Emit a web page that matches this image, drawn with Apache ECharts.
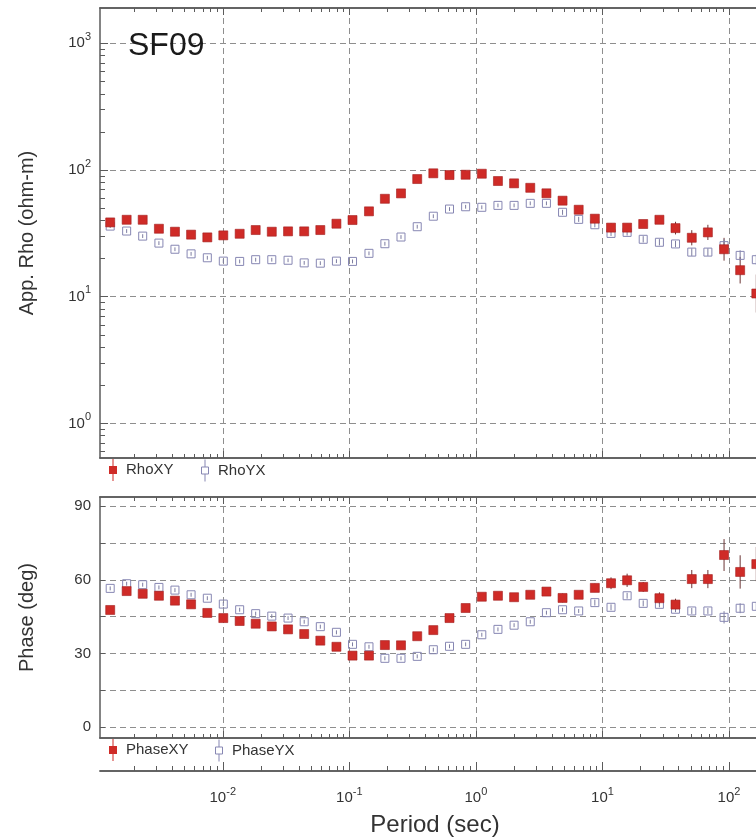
<!DOCTYPE html>
<html><head><meta charset="utf-8">
<script src="https://cdn.jsdelivr.net/npm/echarts@6/dist/echarts.min.js"></script>
<style>html,body{margin:0;padding:0;background:#fff}#c{width:756px;height:839px}</style>
</head><body><div id="c"></div>
<script>
// ---------- data ----------
const periods = [0.00129, 0.00174, 0.00233, 0.00313, 0.00419, 0.00562, 0.00755, 0.0101, 0.0136, 0.0182,
  0.0244, 0.0328, 0.044, 0.059, 0.0791, 0.106, 0.143, 0.191, 0.256, 0.344,
  0.461, 0.619, 0.83, 1.114, 1.494, 2.004, 2.69, 3.61, 4.84, 6.49,
  8.71, 11.69, 15.67, 21.0, 28.2, 37.8, 50.8, 68.1, 91.4, 122.5, 164.4];
const rhoXY = [38.6, 40.5, 40.5, 34.4, 32.6, 30.9, 29.4, 30.5, 31.4, 33.6,
  32.6, 32.8, 32.8, 33.6, 37.7, 40.3, 47.2, 59.3, 65.4, 84.9,
  94.2, 91.3, 91.8, 93.5, 81.9, 78.5, 72.4, 65.5, 57.3, 48.6,
  41.3, 35.1, 35.1, 37.5, 40.5, 34.8, 29.2, 32.2, 23.7, 16.2, 10.6];
const rhoYX = [36.1, 33.0, 30.1, 26.5, 23.7, 21.8, 20.3, 19.1, 19.0, 19.6,
  19.6, 19.4, 18.5, 18.4, 19.1, 19.0, 22.0, 26.2, 29.6, 35.7,
  43.2, 49.2, 51.3, 50.8, 52.6, 52.6, 54.6, 54.6, 46.4, 40.8,
  37.0, 31.6, 32.2, 28.4, 26.9, 26.1, 22.5, 22.5, 25.3, 21.2, 19.6];
// error half-widths in decades (log10)
const rhoXYErr = [0.015, 0.015, 0.015, 0.015, 0.015, 0.015, 0.015, 0.015, 0.015, 0.015,
  0.015, 0.015, 0.015, 0.015, 0.015, 0.015, 0.015, 0.015, 0.015, 0.015,
  0.015, 0.015, 0.015, 0.015, 0.015, 0.015, 0.015, 0.02, 0.03, 0.025,
  0.03, 0.035, 0.03, 0.03, 0.03, 0.05, 0.06, 0.06, 0.09, 0.105, 0.15];
const rhoYXErr = [0.015, 0.015, 0.015, 0.015, 0.015, 0.015, 0.015, 0.015, 0.015, 0.015,
  0.015, 0.015, 0.015, 0.015, 0.015, 0.015, 0.015, 0.015, 0.015, 0.015,
  0.015, 0.015, 0.015, 0.015, 0.015, 0.015, 0.015, 0.015, 0.02, 0.02,
  0.02, 0.02, 0.025, 0.025, 0.025, 0.025, 0.03, 0.03, 0.05, 0.04, 0.04];
const phaseXY = [47.7, 55.4, 54.3, 53.5, 51.5, 50.0, 46.5, 44.4, 43.2, 42.1,
  41.0, 39.8, 37.9, 35.2, 32.7, 29.1, 29.1, 33.4, 33.3, 37.0,
  39.5, 44.4, 48.5, 53.1, 53.5, 52.9, 53.9, 55.2, 52.6, 53.9,
  56.7, 58.6, 59.8, 57.1, 52.5, 49.9, 60.3, 60.3, 70.1, 63.2, 66.4];
const phaseYX = [56.5, 58.4, 58.0, 56.9, 55.8, 53.9, 52.5, 50.1, 47.8, 46.2,
  45.2, 44.4, 42.9, 40.9, 38.6, 33.7, 32.7, 28.0, 28.0, 28.8,
  31.5, 32.9, 33.7, 37.6, 39.8, 41.5, 42.9, 46.6, 47.8, 47.3,
  50.7, 48.8, 53.5, 50.4, 50.0, 48.0, 47.3, 47.3, 44.7, 48.4, 49.2];
// error half-widths in degrees
const phaseXYErr = [0.8, 0.8, 0.8, 0.8, 0.8, 0.8, 0.8, 0.8, 0.8, 0.8,
  0.8, 0.8, 0.8, 0.8, 0.8, 0.8, 0.8, 0.8, 0.8, 0.8,
  0.8, 0.8, 0.8, 0.8, 0.8, 0.8, 0.8, 0.8, 1.8, 1.0,
  1.7, 2.4, 2.7, 2.0, 2.4, 2.4, 3.7, 3.7, 6.5, 6.8, 7.0];
const phaseYXErr = [0.8, 0.8, 0.8, 0.8, 0.8, 0.8, 0.8, 0.8, 0.8, 0.8,
  0.8, 0.8, 0.8, 0.8, 0.8, 0.8, 0.8, 0.8, 0.8, 0.8,
  0.8, 0.8, 0.8, 0.8, 0.8, 0.8, 0.8, 0.8, 0.8, 0.8,
  1.2, 1.2, 1.2, 1.2, 1.2, 1.2, 1.2, 1.2, 2.5, 2.0, 1.5];

// tick values
const xMajorTicks = [0.01, 0.1, 1, 10, 100];
const rhoMajorTicks = [1, 10, 100, 1000];
const phaseTicks = [0, 15, 30, 45, 60, 75, 90];
const phaseLabels = [0, 30, 60, 90];
const minorMultipliers = [2, 3, 4, 5, 6, 7, 8, 9];

// ---------- helpers ----------
function minorTicks(fromExp, toExp) {
  const out = [];
  for (let e = fromExp; e <= toExp; e++) {
    minorMultipliers.forEach(m => out.push(+(m * Math.pow(10, e)).toPrecision(6)));
  }
  return out;
}
const X_MIN = Math.pow(10, -2.970);
const X_MAX = Math.pow(10, 2.6875);
const RHO_MIN = Math.pow(10, -0.273);
const RHO_MAX = Math.pow(10, 3.279);
const PH_MIN = -4.48, PH_MAX = 93.75;
const xMinorTicks = minorTicks(-3, 2).filter(v => v > X_MIN && v < X_MAX);
const rhoMinorTicks = minorTicks(-1, 3).filter(v => v > RHO_MIN && v < RHO_MAX);

const FONT = "'Liberation Sans', Arial, Helvetica, sans-serif";
const AX = '#5b5b5b';
const TXT = '#333333';
const RED = '#cf2b27';
const BLUE = '#8787b3';
const GRIDLINE = {show: true, lineStyle: {type: [6, 4], color: '#8e8e8e', width: 1}};
const RICH = {
  b: {fontSize: 15, fontFamily: FONT, color: TXT},
  s: {fontSize: 11, fontFamily: FONT, color: TXT, padding: [0, 0, 13, 0]}
};
const powLabel = v => '{b|10}{s|' + Math.round(Math.log10(v)) + '}';

function xAxis(grid, pos, ticks, len, extra) {
  return Object.assign({
    type: 'log', logBase: 10, gridIndex: grid, position: pos, min: X_MIN, max: X_MAX,
    axisLine: {show: true, onZero: false, lineStyle: {color: AX, width: 1.5}},
    axisTick: {show: true, inside: true, length: len, customValues: ticks, lineStyle: {color: AX, width: 1}},
    axisLabel: {show: false},
    splitLine: {show: false}
  }, extra || {});
}

const xAxes = [
  xAxis(0, 'bottom', xMajorTicks, 7, {splitLine: GRIDLINE}),
  xAxis(0, 'bottom', xMinorTicks, 4),
  xAxis(0, 'top', xMajorTicks, 7),
  xAxis(0, 'top', xMinorTicks, 4),
  xAxis(1, 'bottom', xMajorTicks, 7, {splitLine: GRIDLINE}),
  xAxis(1, 'bottom', xMinorTicks, 4),
  xAxis(1, 'top', xMajorTicks, 7),
  xAxis(1, 'top', xMinorTicks, 4),
  xAxis(2, 'bottom', xMajorTicks, 9, {
    axisLabel: {show: true, customValues: xMajorTicks, margin: 15, formatter: powLabel, rich: RICH}
  }),
  xAxis(2, 'bottom', xMinorTicks, 5)
];

const yAxes = [
  {type: 'log', logBase: 10, gridIndex: 0, position: 'left', min: RHO_MIN, max: RHO_MAX,
    name: 'App. Rho (ohm-m)', nameLocation: 'middle', nameGap: 63,
    nameTextStyle: {fontSize: 20, fontFamily: FONT, color: TXT},
    axisLine: {show: true, onZero: false, lineStyle: {color: AX, width: 1.5}},
    axisTick: {show: true, inside: true, length: 8, customValues: rhoMajorTicks, lineStyle: {color: AX}},
    axisLabel: {show: true, customValues: rhoMajorTicks, margin: 9, formatter: powLabel, rich: RICH},
    splitLine: GRIDLINE},
  {type: 'log', logBase: 10, gridIndex: 0, position: 'left', min: RHO_MIN, max: RHO_MAX,
    axisLine: {show: false, onZero: false},
    axisTick: {show: true, inside: true, length: 5, customValues: rhoMinorTicks, lineStyle: {color: AX}},
    axisLabel: {show: false}, splitLine: {show: false}},
  {type: 'value', gridIndex: 1, position: 'left', min: PH_MIN, max: PH_MAX,
    name: 'Phase (deg)', nameLocation: 'middle', nameGap: 63,
    nameTextStyle: {fontSize: 20, fontFamily: FONT, color: TXT},
    axisLine: {show: true, onZero: false, lineStyle: {color: AX, width: 1.5}},
    axisTick: {show: true, inside: true, length: 5, customValues: phaseTicks, lineStyle: {color: AX}},
    axisLabel: {show: true, customValues: phaseLabels, margin: 9, fontSize: 15, fontFamily: FONT, color: TXT},
    splitLine: GRIDLINE},
  {type: 'value', gridIndex: 2, show: false, min: 0, max: 1}
];

function scatter(name, xi, yi, ys, filled, z) {
  return {
    type: 'scatter', name, xAxisIndex: xi, yAxisIndex: yi, z,
    data: periods.map((t, i) => [t, ys[i]]),
    symbol: 'rect', symbolSize: filled ? 9 : 8,
    itemStyle: filled
      ? {color: RED, borderColor: '#a31e1e', borderWidth: 0.6, opacity: 1}
      : {color: 'rgba(255,255,255,0)', borderColor: BLUE, borderWidth: 1, opacity: 1},
    emphasis: {disabled: true}, silent: true
  };
}
function errBars(name, xi, yi, ys, errs, isLog, color, z) {
  return {
    type: 'custom', name, xAxisIndex: xi, yAxisIndex: yi, z, silent: true,
    data: periods.map((t, i) => isLog
      ? [t, ys[i] / Math.pow(10, errs[i]), ys[i] * Math.pow(10, errs[i])]
      : [t, ys[i] - errs[i], ys[i] + errs[i]]),
    encode: {x: 0, y: [1, 2]},
    renderItem(params, api) {
      const a = api.coord([api.value(0), api.value(1)]);
      const b = api.coord([api.value(0), api.value(2)]);
      return {type: 'line', shape: {x1: a[0], y1: a[1], x2: b[0], y2: b[1]},
        style: {stroke: color, lineWidth: 1}};
    }
  };
}

const ICON_FILLED = 'path://M0,7H8V15H0Z M3.5,0H4.5V22H3.5Z';
const ICON_OPEN = 'path://M0.5,7.5H7.5V14.5H0.5Z M4,0V7.5 M4,14.5V22';
function legend(name, left, top, filled) {
  return {
    data: [{name, icon: filled ? ICON_FILLED : ICON_OPEN}],
    left, top, itemWidth: 16, itemHeight: 22, padding: 0, selectedMode: false,
    itemStyle: filled ? {color: RED, borderWidth: 0} : {color: 'rgba(255,255,255,0)', borderColor: BLUE, borderWidth: 1},
    textStyle: {fontSize: 15, fontFamily: FONT, color: TXT}
  };
}

const gridBase = {left: 100, width: 716, outerBoundsMode: 'none', containLabel: false};
const option = {
  animation: false,
  backgroundColor: '#ffffff',
  title: {text: 'SF09', left: 128, top: 30, padding: 0,
    textStyle: {fontSize: 32, fontWeight: 'normal', fontFamily: FONT, color: '#1a1a1a'}},
  grid: [
    Object.assign({top: 8, height: 450}, gridBase),
    Object.assign({top: 497, height: 241}, gridBase),
    Object.assign({top: 760, height: 11}, gridBase)
  ],
  xAxis: xAxes,
  yAxis: yAxes,
  legend: [
    legend('RhoXY', 109, 459, true),
    legend('RhoYX', 201, 459, false),
    legend('PhaseXY', 109, 739, true),
    legend('PhaseYX', 215, 739, false)
  ],
  graphic: [{type: 'text', x: 435, y: 825,
    style: {text: 'Period (sec)', align: 'center', verticalAlign: 'middle',
      fontSize: 24, fontFamily: FONT, fill: TXT}}],
  series: [
    errBars('RhoXY err', 0, 0, rhoXY, rhoXYErr, true, '#6b3434', 2),
    errBars('RhoYX err', 0, 0, rhoYX, rhoYXErr, true, '#7c7ca0', 2),
    scatter('RhoYX', 0, 0, rhoYX, false, 3),
    scatter('RhoXY', 0, 0, rhoXY, true, 4),
    errBars('PhaseXY err', 4, 2, phaseXY, phaseXYErr, false, '#6b3434', 2),
    errBars('PhaseYX err', 4, 2, phaseYX, phaseYXErr, false, '#7c7ca0', 2),
    scatter('PhaseYX', 4, 2, phaseYX, false, 3),
    scatter('PhaseXY', 4, 2, phaseXY, true, 4)
  ]
};

const chart = echarts.init(document.getElementById('c'), null, {renderer: 'canvas'});
chart.setOption(option);
</script>
</body></html>
